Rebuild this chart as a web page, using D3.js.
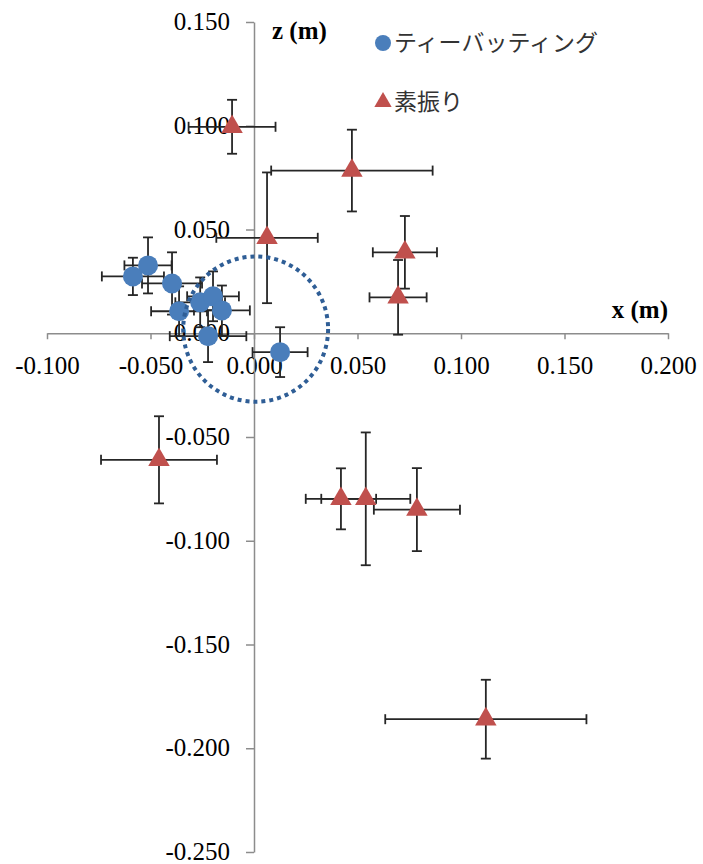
<!DOCTYPE html>
<html><head><meta charset="utf-8">
<script src="https://cdn.jsdelivr.net/npm/d3@7"></script>
<style>body{margin:0;background:#fff}svg{display:block}</style>
</head><body>
<svg id="c" width="703" height="864"></svg>
<script>
const xTicks = [-0.100, -0.050, 0.000, 0.050, 0.100, 0.150, 0.200];
const yTicks = [0.150, 0.100, 0.050, 0.000, -0.050, -0.100, -0.150, -0.200, -0.250];
const seriesNames = ["ティーバッティング", "素振り"];

const teeX    = [-0.0585, -0.0512, -0.0396, -0.0362, -0.0260, -0.0198, -0.0155, -0.0222, 0.0126];
const teeZ    = [0.0274, 0.0327, 0.0240, 0.0106, 0.0149, 0.0178, 0.0110, -0.0014, -0.0091];
const teeXErr = [0.0150, 0.0114, 0.0145, 0.0135, 0.0120, 0.0125, 0.0135, 0.0185, 0.0133];
const teeZErr = [0.0090, 0.0135, 0.0150, 0.0120, 0.0120, 0.0120, 0.0120, 0.0125, 0.0120];

const swingX    = [-0.0106, 0.0473, 0.0063, 0.0729, 0.0696, -0.0459, 0.0420, 0.0540, 0.0787, 0.1120];
const swingZ    = [0.0995, 0.0784, 0.0460, 0.0390, 0.0173, -0.0610, -0.0798, -0.0798, -0.0850, -0.1860];
const swingXErr = [0.0210, 0.0390, 0.0245, 0.0155, 0.0138, 0.0280, 0.0170, 0.0215, 0.0208, 0.0486];
const swingZErr = [0.0130, 0.0197, 0.0315, 0.0175, 0.0180, 0.0210, 0.0147, 0.0320, 0.0200, 0.0190];

const circleCenter = [0.0008, 0.002];
const circleRadius = 0.035;

const svg = d3.select("#c");
const x = d3.scaleLinear().domain([-0.1, 0.2]).range([47, 668]);
const y = d3.scaleLinear().domain([0.15, -0.25]).range([22, 852]);
const axisColor = "#8c8c8c";
const fmt = v => (v < 0 ? "-" : "") + Math.abs(v).toFixed(3);

// x axis through z=0
const gx = svg.append("g").attr("transform", `translate(0,${y(0)})`)
  .call(d3.axisBottom(x).tickValues(xTicks).tickFormat(fmt).tickSize(6).tickSizeOuter(0));
gx.select(".domain").attr("stroke", axisColor).attr("stroke-width", 1.5);
gx.selectAll(".tick line").attr("stroke", axisColor).attr("stroke-width", 1.5);
gx.selectAll(".tick text").attr("font-family", "'Liberation Serif','Times New Roman',serif")
  .attr("font-size", 25).attr("fill", "#000").attr("y", 41).attr("dy", 0);

// y axis through x=0
const gy = svg.append("g").attr("transform", `translate(${x(0)},0)`)
  .call(d3.axisLeft(y).tickValues(yTicks).tickFormat(fmt).tickSize(8).tickSizeOuter(0));
gy.select(".domain").attr("stroke", axisColor).attr("stroke-width", 1.5);
gy.selectAll(".tick line").attr("stroke", axisColor).attr("stroke-width", 1.5);
gy.selectAll(".tick text").attr("font-family", "'Liberation Serif','Times New Roman',serif")
  .attr("font-size", 25).attr("fill", "#000").attr("x", -24).attr("dy", "0.3em");

// axis titles
svg.append("text").attr("x", 272).attr("y", 39).text("z (m)")
  .attr("font-family", "'Liberation Serif',serif").attr("font-weight", "bold").attr("font-size", 25);
svg.append("text").attr("x", 668).attr("y", 318).attr("text-anchor", "end").text("x (m)")
  .attr("font-family", "'Liberation Serif',serif").attr("font-weight", "bold").attr("font-size", 25);

function errorBars(g, xs, zs, xe, ze) {
  const cap = 5;
  const col = "#262626", sw = 1.8;
  xs.forEach((v, i) => {
    const cx = x(v), cy = y(zs[i]);
    const x0 = x(v - xe[i]), x1 = x(v + xe[i]);
    const y0 = y(zs[i] + ze[i]), y1 = y(zs[i] - ze[i]);
    const segs = [
      [x0, cy, x1, cy], [x0, cy - cap, x0, cy + cap], [x1, cy - cap, x1, cy + cap],
      [cx, y0, cx, y1], [cx - cap, y0, cx + cap, y0], [cx - cap, y1, cx + cap, y1]
    ];
    segs.forEach(s => g.append("line").attr("x1", s[0]).attr("y1", s[1]).attr("x2", s[2]).attr("y2", s[3])
      .attr("stroke", col).attr("stroke-width", sw));
  });
}

const blue = "#4a7ebb", red = "#c0504d";
const tri = d3.symbol().type(d3.symbolTriangle).size(200);

// tee batting series
const g1 = svg.append("g");
errorBars(g1, teeX, teeZ, teeXErr, teeZErr);
g1.selectAll("circle").data(teeX).join("circle")
  .attr("cx", d => x(d)).attr("cy", (d, i) => y(teeZ[i])).attr("r", 10).attr("fill", blue);

// swing series
const g2 = svg.append("g");
errorBars(g2, swingX, swingZ, swingXErr, swingZErr);
g2.selectAll("path").data(swingX).join("path")
  .attr("d", tri).attr("transform", (d, i) => `translate(${x(d)},${y(swingZ[i])})`).attr("fill", red);

// dotted circle
svg.append("ellipse")
  .attr("cx", x(circleCenter[0])).attr("cy", y(circleCenter[1]))
  .attr("rx", x(circleRadius) - x(0)).attr("ry", y(0) - y(circleRadius))
  .attr("fill", "none").attr("stroke", "#2f5e96").attr("stroke-width", 4).attr("stroke-dasharray", "4 4");

// legend
const lg = svg.append("g");
lg.append("circle").attr("cx", 383).attr("cy", 43).attr("r", 8).attr("fill", blue);
lg.append("text").attr("x", 394).attr("y", 51).text(seriesNames[0])
  .attr("font-family", "'Noto Sans CJK JP',sans-serif").attr("font-size", 23).attr("fill", "#333");
lg.append("path").attr("d", d3.symbol().type(d3.symbolTriangle).size(130)).attr("transform", "translate(383,102)").attr("fill", red);
lg.append("text").attr("x", 394).attr("y", 110).text(seriesNames[1])
  .attr("font-family", "'Noto Sans CJK JP',sans-serif").attr("font-size", 23).attr("fill", "#333");
</script>
</body></html>
